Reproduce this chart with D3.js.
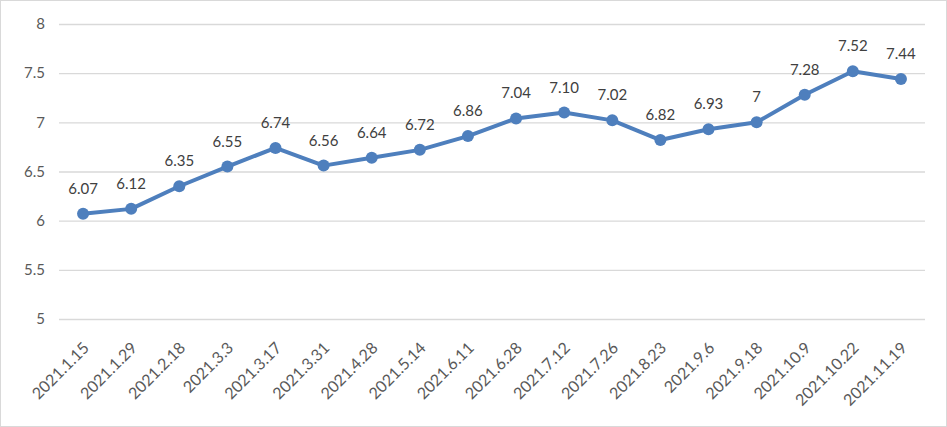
<!DOCTYPE html>
<html><head><meta charset="utf-8">
<script src="https://cdn.jsdelivr.net/npm/d3@7/dist/d3.min.js"></script>
<style>body{margin:0;background:#fff}svg{display:block}</style>
</head><body>
<svg id="c" width="947" height="427"></svg>
<script>
const categories = ["2021.1.15","2021.1.29","2021.2.18","2021.3.3","2021.3.17","2021.3.31","2021.4.28","2021.5.14","2021.6.11","2021.6.28","2021.7.12","2021.7.26","2021.8.23","2021.9.6","2021.9.18","2021.10.9","2021.10.22","2021.11.19"];
const values = [6.07,6.12,6.35,6.55,6.74,6.56,6.64,6.72,6.86,7.04,7.10,7.02,6.82,6.93,7,7.28,7.52,7.44];
const valueLabels = ["6.07","6.12","6.35","6.55","6.74","6.56","6.64","6.72","6.86","7.04","7.10","7.02","6.82","6.93","7","7.28","7.52","7.44"];
const yTicks = [5,5.5,6,6.5,7,7.5,8];

const svg = d3.select("#c");
const font = "Lato, 'Open Sans', sans-serif";
svg.append("rect").attr("x",0.5).attr("y",0.5).attr("width",946).attr("height",426)
  .attr("fill","#fff").attr("stroke","#d9d9d9");

const x = d3.scaleBand().domain(categories).range([59,925]);
const y = d3.scaleLinear().domain([5,8]).range([319,24]);

const yAxis = svg.append("g").attr("transform","translate(59,0)")
  .call(d3.axisLeft(y).tickValues(yTicks).tickSize(-866).tickPadding(14).tickFormat(d=>String(d)));
yAxis.select(".domain").remove();
yAxis.selectAll("line").attr("stroke","#d9d9d9").attr("stroke-width",1.3);
yAxis.selectAll("text").attr("fill","#595959").style("font-family",font).style("font-size","15px");

const xAxis = svg.append("g").attr("transform","translate(0,319)")
  .call(d3.axisBottom(x).tickSize(0).tickPadding(0));
xAxis.select(".domain").remove();
xAxis.selectAll("text").attr("fill","#595959").style("font-family",font).style("font-size","16px")
  .attr("text-anchor","end").attr("dy",null).attr("y",null)
  .attr("transform","translate(7,30) rotate(-45)");

const cx = (d,i)=>x(categories[i])+x.bandwidth()/2;
const line = d3.line().x((d,i)=>cx(d,i)).y(d=>y(d));
svg.append("path").datum(values).attr("d",line).attr("fill","none")
  .attr("stroke","#4e7fbd").attr("stroke-width",4).attr("stroke-linejoin","round");
svg.selectAll("circle.pt").data(values).enter().append("circle")
  .attr("cx",cx).attr("cy",d=>y(d)).attr("r",6).attr("fill","#4e7fbd");
svg.selectAll("text.lbl").data(values).enter().append("text")
  .attr("x",cx).attr("y",d=>y(d)-20).attr("text-anchor","middle")
  .attr("fill","#404040").style("font-family",font).style("font-size","15px")
  .text((d,i)=>valueLabels[i]);
</script>
</body></html>
